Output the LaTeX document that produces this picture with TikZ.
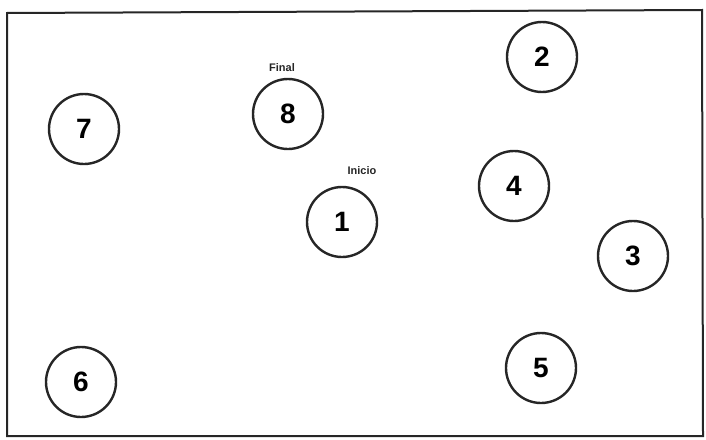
\documentclass[tikz,border=0pt]{standalone}
\usepackage{fontspec}
\setmainfont{Liberation Sans}
\begin{document}
\begin{tikzpicture}[x=1pt,y=-1pt,
  station/.style={circle,draw=black!85,line width=2.4pt,minimum size=70pt,inner sep=0pt,font=\fontsize{28}{28}\selectfont\bfseries},
  tag/.style={font=\fontsize{11}{11}\selectfont\bfseries,text=black!85}]
\useasboundingbox (0,0) rectangle (706,439);
\draw[line width=2pt,black!85] (7,13) -- (702,10) -- (703,436) -- (7,436) -- cycle;
\node[station] (n2) at (542,57) {2};
\node[station] (n8) at (288,114) {8};
\node[station] (n7) at (84,129) {7};
\node[station] (n4) at (514,186) {4};
\node[station] (n1) at (342,222) {1};
\node[station] (n3) at (633,256) {3};
\node[station] (n6) at (81,382) {6};
\node[station] (n5) at (541,368) {5};
\node[tag] (lfinal) at (282,68) {Final};
\node[tag] (linicio) at (362,171) {Inicio};
\end{tikzpicture}
\end{document}
